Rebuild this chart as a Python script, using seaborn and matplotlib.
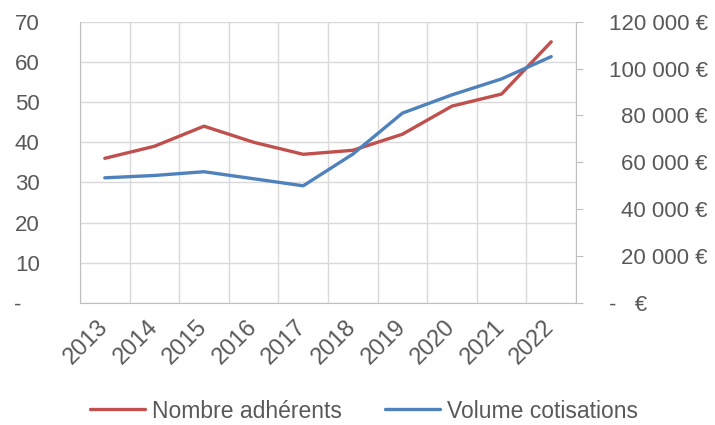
import numpy as np
import pandas as pd
import matplotlib
matplotlib.use('Agg')
import matplotlib.pyplot as plt
import seaborn as sns
from matplotlib.ticker import FuncFormatter, MultipleLocator

# data
annees = ['2013', '2014', '2015', '2016', '2017', '2018', '2019', '2020', '2021', '2022']
adherents = [36, 39, 44, 40, 37, 38, 42, 49, 52, 65]
cotisations = [53400, 54400, 56000, 53000, 50000, 63500, 81000, 88800, 95600, 105100]

df = pd.DataFrame({'annee': annees, 'adherents': adherents, 'cotisations': cotisations})
df['pos'] = np.arange(len(df))

sns.set_style('white')
plt.rcParams['font.family'] = ['Liberation Sans', 'DejaVu Sans']

gris_txt = '#595959'
gris_grid = '#D9D9D9'
rouge = '#C0504D'
bleu = '#4F81BD'

fig, ax = plt.subplots(figsize=(7.15, 4.25), dpi=100)
fig.subplots_adjust(left=80/715, right=576/715, top=1-21.7/425, bottom=1-303/425)
ax2 = ax.twinx()

sns.lineplot(data=df, x='pos', y='adherents', ax=ax, color=rouge, lw=2.4, legend=False)
sns.lineplot(data=df, x='pos', y='cotisations', ax=ax2, color=bleu, lw=2.4, legend=False)

# x axis : categories
ax.set_xlim(-0.5, len(annees) - 0.5)
ax.set_xticks(df['pos'])
ax.set_xticklabels(annees, rotation=45, ha='right', va='center', rotation_mode='anchor')
ax.xaxis.set_minor_locator(MultipleLocator(1, offset=0.5))
ax.grid(True, which='minor', axis='x', color=gris_grid, lw=1)
ax.tick_params(axis='x', which='major', length=0, pad=15, labelsize=17, labelcolor=gris_txt)
ax.tick_params(axis='x', which='minor', length=5, color=gris_grid, direction='out')
ax.set_xlabel('')

# left axis
ax.set_ylim(0, 70)
ax.yaxis.set_major_locator(MultipleLocator(10))
ax.yaxis.set_major_formatter(FuncFormatter(lambda v, p: '-   ' if v == 0 else f'{v:.0f}'))
ax.grid(True, which='major', axis='y', color=gris_grid, lw=1)
ax.tick_params(axis='y', length=0, pad=29, labelsize=16, labelcolor=gris_txt)
ax.set_ylabel('')

# right axis
def euro(v, p):
    if v == 0:
        return '-   €          '
    return f'{v:,.0f}'.replace(',', ' ') + ' €'

ax2.set_ylim(0, 120000)
ax2.yaxis.set_major_locator(MultipleLocator(20000))
ax2.yaxis.set_major_formatter(FuncFormatter(euro))
ax2.tick_params(axis='y', length=5, color='#BFBFBF', pad=90, labelsize=16, labelcolor=gris_txt)
for t in ax2.get_yticklabels():
    t.set_ha('right')
ax2.set_ylabel('')

for a in (ax, ax2):
    for s in a.spines.values():
        s.set_visible(False)
ax.spines['left'].set_visible(True)
ax.spines['left'].set_color('#BFBFBF')
ax.spines['bottom'].set_visible(True)
ax.spines['bottom'].set_color('#BFBFBF')
ax2.spines['right'].set_visible(True)
ax2.spines['right'].set_color('#BFBFBF')

handles = [ax.lines[0], ax2.lines[0]]
fig.legend(handles, ['Nombre adhérents', 'Volume cotisations'], loc='center',
           bbox_to_anchor=(364/715, 1-411/425), ncol=2, frameon=False, fontsize=16.5,
           labelcolor=gris_txt, handlelength=2.4, handletextpad=0.3, columnspacing=1.9)

fig.savefig('out.png', dpi=100)
